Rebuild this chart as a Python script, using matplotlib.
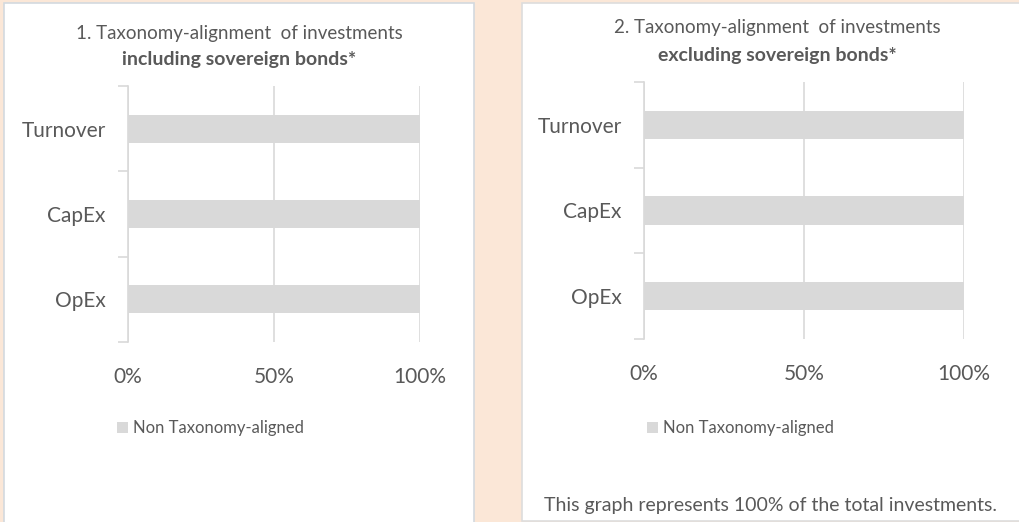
import matplotlib.pyplot as plt
import matplotlib.patches as mpatches

plt.rcParams['font.family'] = ['Lato', 'DejaVu Sans']

# data
categories = ['OpEx', 'CapEx', 'Turnover']
non_aligned_incl = [100, 100, 100]
non_aligned_excl = [100, 100, 100]
x_ticks = [0, 50, 100]
x_tick_labels = ['0%', '50%', '100%']
legend_label = 'Non Taxonomy-aligned'
titles = [('1. Taxonomy-alignment  of investments', 'including sovereign bonds*'),
          ('2. Taxonomy-alignment  of investments', 'excluding sovereign bonds*')]
footnote = 'This graph represents 100% of the total investments.'

bg = '#FBE7D7'
bar_color = '#D9D9D9'
grid_color = '#D9D9D9'
text_color = '#595959'
border_color = '#D3D9DF'

W, H = 1019, 522
fig = plt.figure(figsize=(W / 100, H / 100), dpi=100, facecolor=bg)

# white panels
fig.patches.append(mpatches.Rectangle((4 / W, -0.01), 470 / W, 1 - 3 / H + 0.01, transform=fig.transFigure,
                                      facecolor='white', edgecolor=border_color, lw=1.2, zorder=-1))
fig.patches.append(mpatches.Rectangle((522 / W, 1 / H), 0.5, 1 - 4 / H, transform=fig.transFigure,
                                      facecolor='white', edgecolor='#DDDDDD', lw=1.2, zorder=-1))


def draw_panel(rect, values, title, title_x, title_y, legend_x, legend_y):
    ax = fig.add_axes(rect)
    ax.set_facecolor('none')
    ax.barh(categories, values, height=0.33, color=bar_color, zorder=2)
    ax.set_xlim(0, 100)
    ax.set_ylim(-0.5, 2.5)
    ax.set_xticks(x_ticks)
    ax.set_xticklabels(x_tick_labels, fontsize=15, color=text_color)
    ax.tick_params(axis='x', length=0, pad=18)
    ax.set_yticks([-0.5, 0.5, 1.5, 2.5], minor=False)
    ax.set_yticklabels([])
    ax.set_yticks([0, 1, 2], minor=True)
    ax.set_yticklabels(categories, minor=True, fontsize=15, color=text_color)
    ax.tick_params(axis='y', which='major', length=7, color=grid_color, width=1.2)
    ax.tick_params(axis='y', which='minor', length=0, pad=16)
    ax.grid(axis='x', color=grid_color, lw=1.2, zorder=1)
    for s in ['top', 'right', 'bottom']:
        ax.spines[s].set_visible(False)
    ax.spines['left'].set_color(grid_color)
    ax.spines['left'].set_linewidth(1.2)
    fig.text(title_x / W, 1 - title_y[0] / H, title[0], ha='center', va='center', fontsize=13.5, color=text_color)
    fig.text(title_x / W, 1 - title_y[1] / H, title[1], ha='center', va='center', fontsize=14,
             color=text_color, fontweight='bold')
    fig.patches.append(mpatches.Rectangle((legend_x / W, 1 - (legend_y + 5) / H), 11 / W, 11 / H,
                                          transform=fig.transFigure, facecolor=bar_color, edgecolor='none'))
    fig.text((legend_x + 16) / W, 1 - legend_y / H, legend_label, ha='left', va='center', fontsize=12,
             color=text_color)
    return ax


draw_panel([128 / W, 1 - 342 / H, 292 / W, 256 / H], non_aligned_incl, titles[0], 239, (33, 60), 117, 428)
draw_panel([644 / W, 1 - 339 / H, 320 / W, 257 / H], non_aligned_excl, titles[1], 777, (28, 55), 647, 428)

fig.text(771 / W, 1 - 505 / H, footnote, ha='center', va='center', fontsize=14, color=text_color)

fig.savefig('out.png', dpi=100, facecolor=bg)
